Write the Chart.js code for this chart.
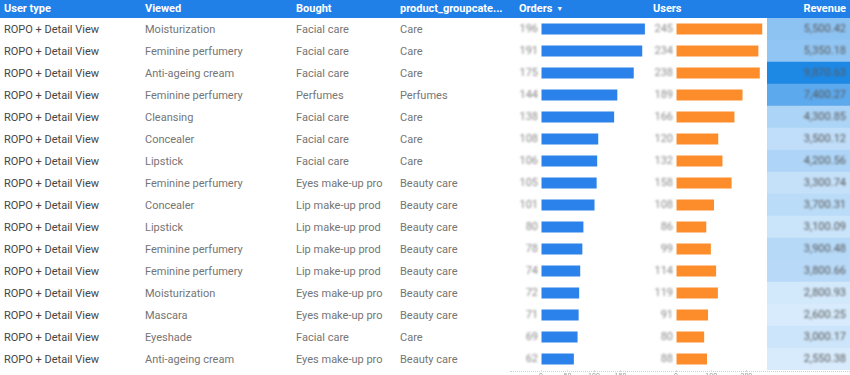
<!DOCTYPE html>
<html><head><meta charset="utf-8">
<script src="https://cdn.jsdelivr.net/npm/chart.js@4.4.1/dist/chart.umd.min.js"></script>
<style>
html,body{margin:0;padding:0}
body{width:850px;height:375px;overflow:hidden;background:#fff;font-family:Roboto,"Noto Sans",sans-serif;position:relative}
#hdr{position:absolute;left:0;top:0;width:850px;height:18px;background:#2180e8}
.h{position:absolute;top:0;height:18px;line-height:18px;color:#fff;font-weight:bold;font-size:11px;white-space:nowrap}
.h .arr{font-size:7px;margin-left:4px;vertical-align:1px}
.c{position:absolute;height:22px;line-height:23px;font-size:11px;color:#757575;white-space:nowrap;overflow:hidden}
.c.first{color:#454545}
canvas{position:absolute}
#bottomline{position:absolute;left:510px;top:371px;width:340px;border-top:1px dotted #d0d0d0}
</style>
</head><body>
<div id="hdr"></div>
<div id="cells"></div>
<div id="bottomline"></div>
<canvas id="ordersChart" width="145" height="367" style="left:505px;top:18px"></canvas>
<canvas id="usersChart" width="126" height="367" style="left:640px;top:18px"></canvas>
<canvas id="revChart" width="83" height="352" style="left:767px;top:18px"></canvas>
<script>
// ---- data ----
const headers = ["User type", "Viewed", "Bought", "product_groupcate...", "Orders", "Users", "Revenue"];
const userType = ["ROPO + Detail View","ROPO + Detail View","ROPO + Detail View","ROPO + Detail View","ROPO + Detail View","ROPO + Detail View","ROPO + Detail View","ROPO + Detail View","ROPO + Detail View","ROPO + Detail View","ROPO + Detail View","ROPO + Detail View","ROPO + Detail View","ROPO + Detail View","ROPO + Detail View","ROPO + Detail View"];
const viewed = ["Moisturization","Feminine perfumery","Anti-ageing cream","Feminine perfumery","Cleansing","Concealer","Lipstick","Feminine perfumery","Concealer","Lipstick","Feminine perfumery","Feminine perfumery","Moisturization","Mascara","Eyeshade","Anti-ageing cream"];
const bought = ["Facial care","Facial care","Facial care","Perfumes","Facial care","Facial care","Facial care","Eyes make-up pro","Lip make-up prod","Lip make-up prod","Lip make-up prod","Lip make-up prod","Eyes make-up pro","Eyes make-up pro","Facial care","Eyes make-up pro"];
const groupCat = ["Care","Care","Care","Perfumes","Care","Care","Care","Beauty care","Beauty care","Beauty care","Beauty care","Beauty care","Beauty care","Beauty care","Care","Beauty care"];
const orders = [196, 191, 175, 144, 138, 108, 106, 105, 101, 80, 78, 74, 72, 71, 69, 62];
const users = [245, 234, 238, 189, 166, 120, 132, 158, 108, 86, 99, 114, 119, 91, 80, 88];
const revenue = [5500.42, 5350.18, 9870.63, 7400.27, 4300.85, 3500.12, 4200.56, 3300.74, 3700.31, 3100.09, 3900.48, 3800.66, 2800.93, 2600.25, 3000.17, 2550.38];
const ordersTicks = [0, 50, 100, 150];
const usersTicks = [0, 100, 200];

// ---- table text ----
const hdr = document.getElementById('hdr');
const hx = [4, 145, 296, 400, 519, 653];
headers.forEach((t, i) => {
  const d = document.createElement('div');
  d.className = 'h';
  d.textContent = t;
  if (i === 4) {
    const a = document.createElement('span');
    a.className = 'arr';
    a.textContent = '\u25BC';
    d.appendChild(a);
  }
  if (i < 6) d.style.left = hx[i] + 'px'; else d.style.right = '4px';
  hdr.appendChild(d);
});
const cells = document.getElementById('cells');
const cols = [[userType, 4, 135, 'first'], [viewed, 145, 145, ''], [bought, 296, 95, ''], [groupCat, 400, 105, '']];
for (let r = 0; r < userType.length; r++) {
  cols.forEach(([arr, x, w, cls]) => {
    const d = document.createElement('div');
    d.className = 'c ' + cls;
    d.style.left = x + 'px';
    d.style.top = (18 + r * 22) + 'px';
    d.style.width = w + 'px';
    d.textContent = arr[r];
    cells.appendChild(d);
  });
}

// ---- charts ----
const labels = viewed.map((v, i) => i + 1 + '');
const valueLabelPlugin = {
  id: 'valueLabels',
  afterDatasetsDraw(chart) {
    const ctx = chart.ctx;
    const meta = chart.getDatasetMeta(0);
    const data = chart.data.datasets[0].data;
    ctx.save();
    ctx.filter = 'blur(1.2px)';
    ctx.font = '11px Roboto';
    ctx.fillStyle = '#8a8a8a';
    ctx.textAlign = 'right';
    ctx.textBaseline = 'middle';
    meta.data.forEach((bar, i) => {
      ctx.fillText(String(data[i]), chart.chartArea.left - 3, bar.y);
    });
    ctx.restore();
  }
};

function barChart(id, data, color, max, tickVals, padLeft, padRight) {
  return new Chart(document.getElementById(id), {
    type: 'bar',
    data: { labels, datasets: [{ data, backgroundColor: color, borderWidth: 0, barPercentage: 0.5, categoryPercentage: 1 }] },
    options: {
      indexAxis: 'y', responsive: false, animation: false,
      layout: { padding: { left: padLeft, right: padRight, top: 0, bottom: 0 } },
      plugins: { legend: { display: false }, tooltip: { enabled: false } },
      scales: {
        y: { display: false },
        x: {
          min: 0, max: max,
          grid: { display: true, drawOnChartArea: false, drawTicks: true, tickLength: 2, color: '#dcdcdc' },
          border: { display: false },
          ticks: { font: { size: 7, family: 'Roboto' }, color: '#a0a0a0', padding: 0, maxRotation: 0, autoSkip: false },
          afterBuildTicks: s => { s.ticks = tickVals.map(v => ({ value: v })); },
          afterFit: s => { s.height = 15; }
        }
      }
    },
    plugins: [valueLabelPlugin]
  });
}
barChart('ordersChart', orders, '#2a82ea', 200, ordersTicks, 36, 3);
barChart('usersChart', users, '#fd8d2b', 250, usersTicks, 36, 2);

// revenue heat cells
const maxRev = Math.max(...revenue);
const base = 2200;
function heat(v) {
  const t = Math.max(0, Math.min(1, (v - base) / (maxRev - base)));
  const lo = [225, 240, 253], hi = [30, 136, 229];
  const c = lo.map((l, k) => Math.round(l + (hi[k] - l) * t));
  return `rgb(${c[0]},${c[1]},${c[2]})`;
}
const revLabelPlugin = {
  id: 'revLabels',
  afterDatasetsDraw(chart) {
    const ctx = chart.ctx;
    const meta = chart.getDatasetMeta(0);
    ctx.save();
    ctx.filter = 'blur(1.2px)';
    ctx.font = '11px Roboto';
    ctx.fillStyle = '#5a5a5a';
    ctx.textAlign = 'right';
    ctx.textBaseline = 'middle';
    meta.data.forEach((bar, i) => {
      ctx.fillText(revenue[i].toLocaleString('en-US', { minimumFractionDigits: 2, maximumFractionDigits: 2 }), chart.chartArea.right - 4, bar.y);
    });
    ctx.restore();
  }
};
new Chart(document.getElementById('revChart'), {
  type: 'bar',
  data: { labels, datasets: [{ data: revenue.map(() => [0, 1]), backgroundColor: revenue.map(heat), borderWidth: 0, barPercentage: 1, categoryPercentage: 1 }] },
  options: {
    indexAxis: 'y', responsive: false, animation: false,
    layout: { padding: 0 },
    plugins: { legend: { display: false }, tooltip: { enabled: false } },
    scales: { y: { display: false }, x: { display: false, min: 0, max: 1 } }
  },
  plugins: [revLabelPlugin]
});
</script>
</body></html>
